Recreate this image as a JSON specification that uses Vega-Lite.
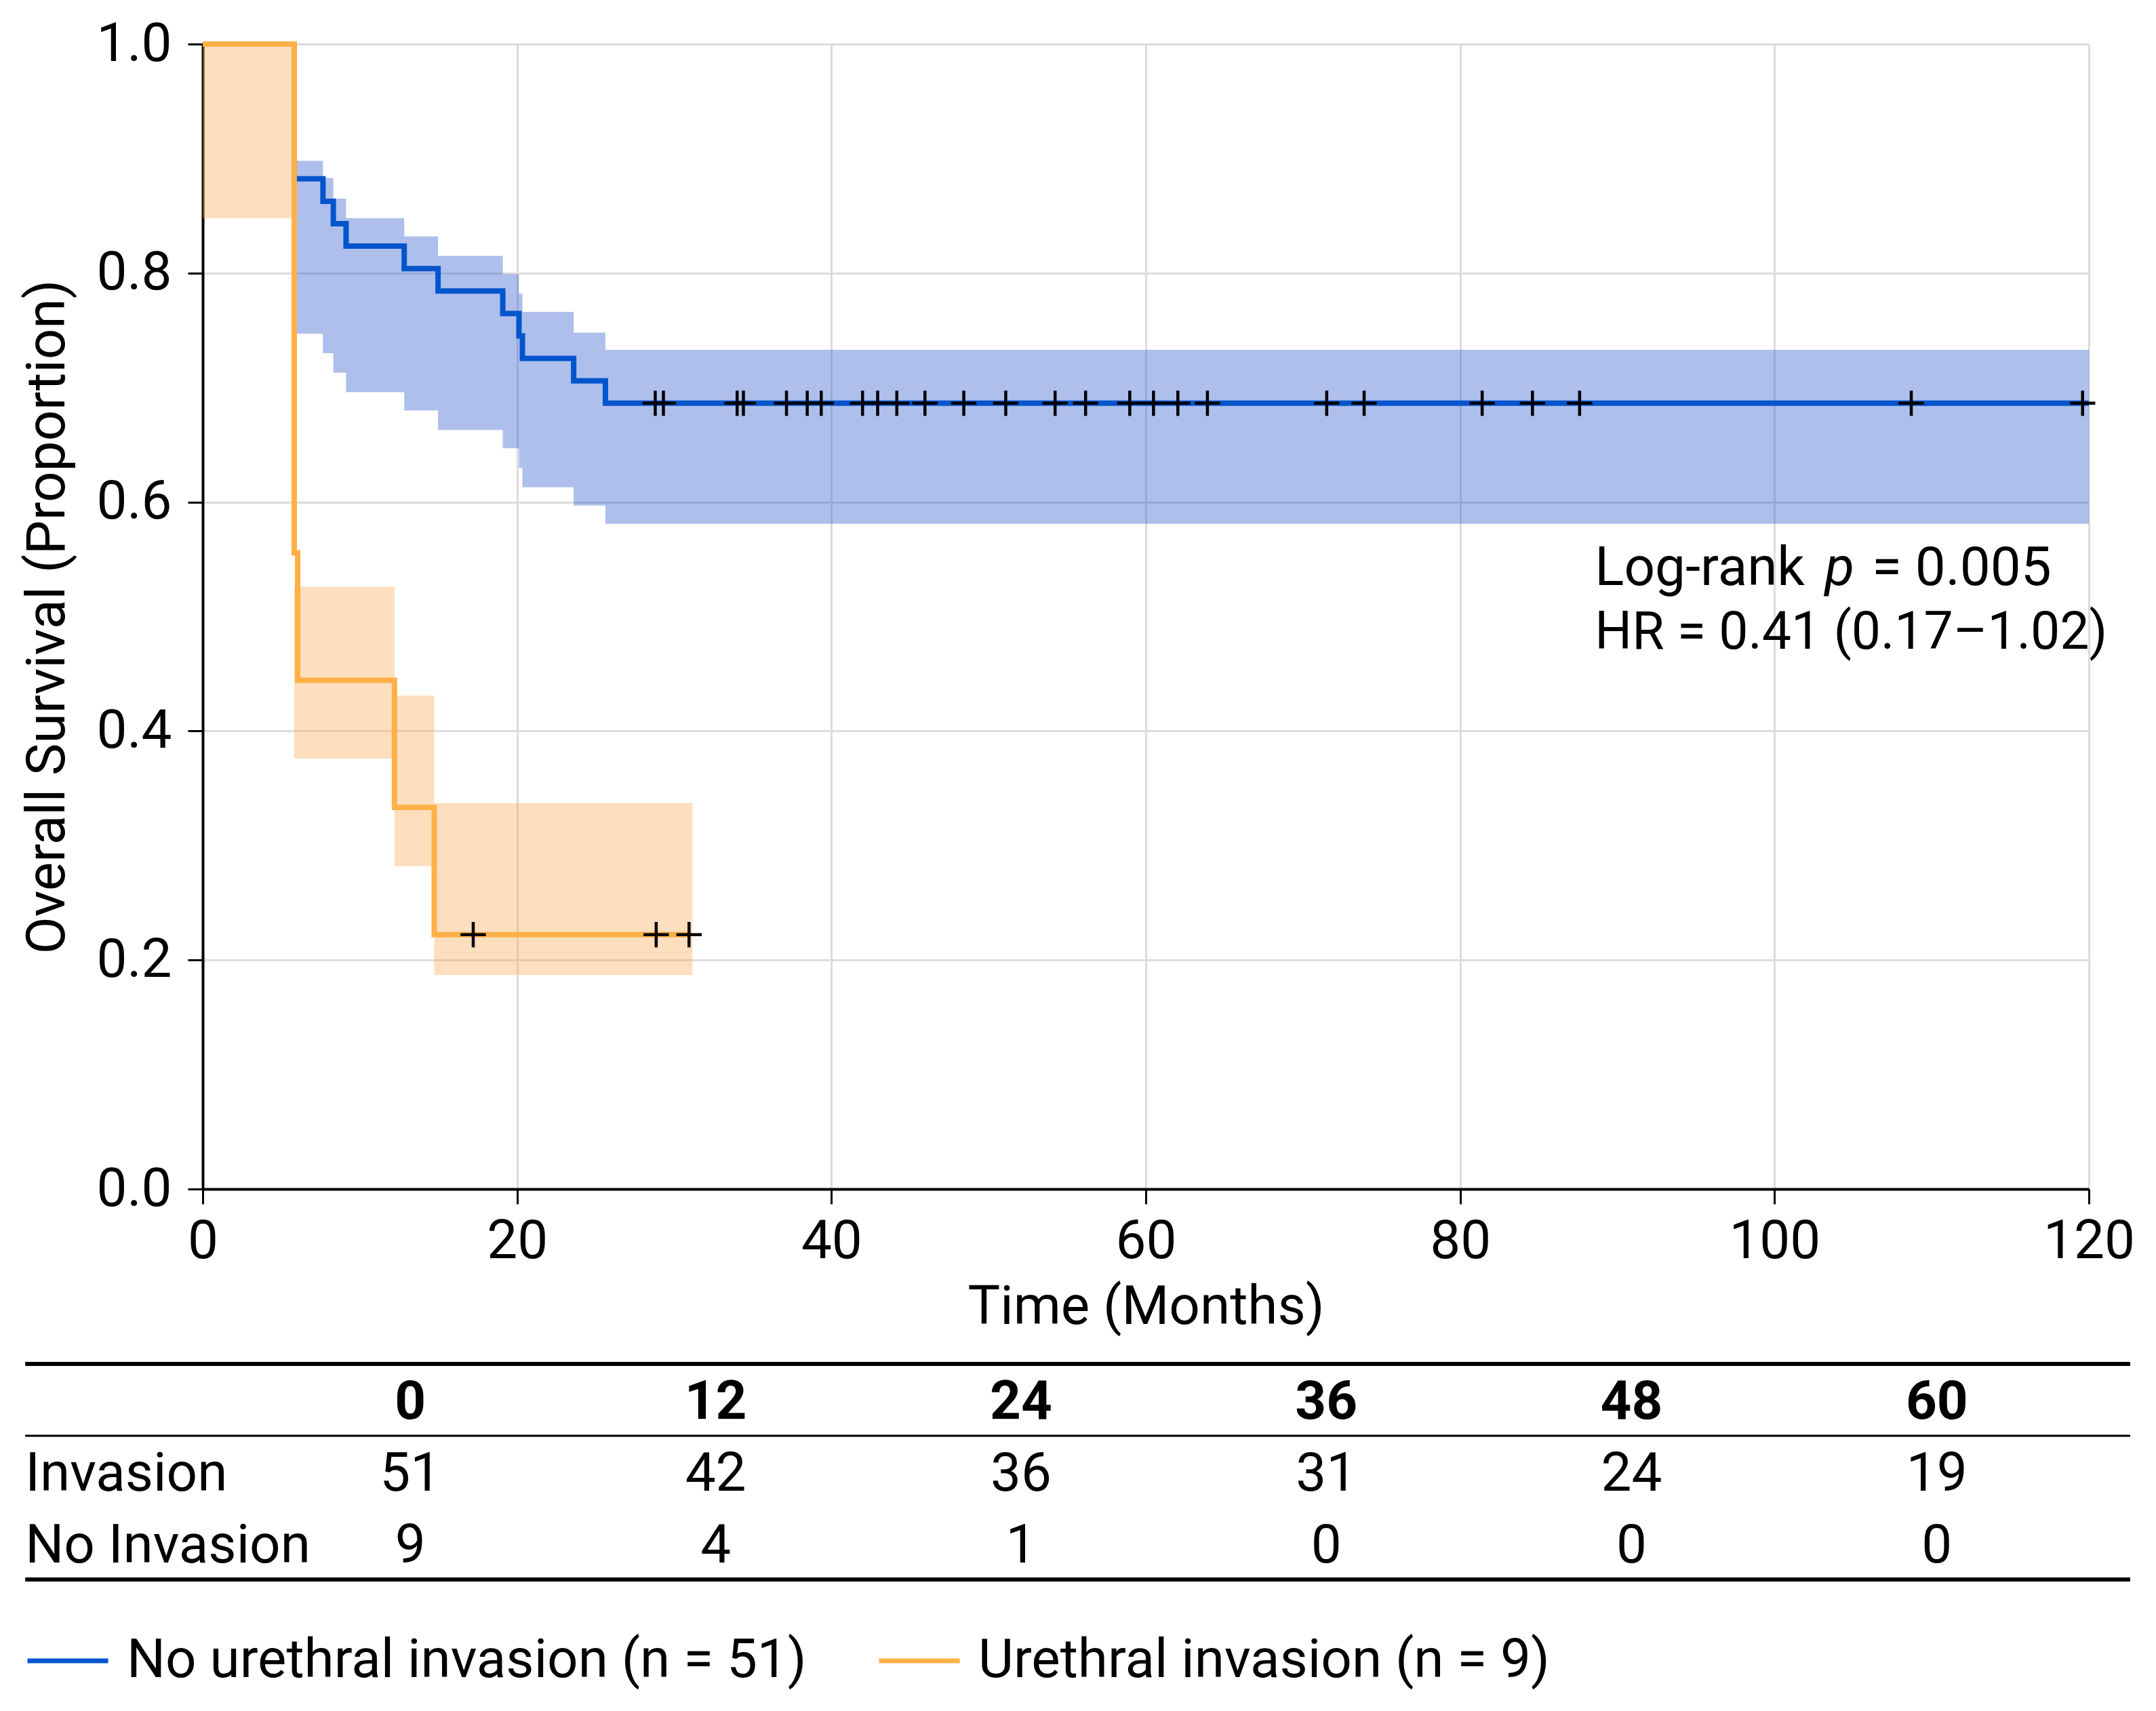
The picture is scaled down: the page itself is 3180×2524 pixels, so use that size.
{
  "$schema": "https://vega.github.io/schema/vega-lite/v6.json",
  "background": "white",
  "padding": {"left": 30, "top": 25, "right": 10, "bottom": 10},
  "bounds": "flush",
  "spacing": 258,
  "resolve": {"scale": {"color": "independent"}, "legend": {"color": "independent"}},
  "config": {
    "font": "Roboto",
    "view": {"stroke": null},
    "axis": {
      "labelFontSize": 80,
      "titleFontSize": 80,
      "titleFontWeight": "normal",
      "labelColor": "black",
      "titleColor": "black",
      "tickColor": "black",
      "domainColor": "black",
      "tickSize": 22,
      "tickWidth": 3,
      "domainWidth": 4,
      "gridColor": "#dcdcdc",
      "gridWidth": 3,
      "labelOverlap": false,
      "labelFlush": false
    },
    "text": {"font": "Roboto", "fontSize": 80, "color": "black"}
  },
  "datasets": {
    "curves": [
      {"group": "No urethral invasion (n = 51)", "t": 0, "s": 1},
      {"group": "No urethral invasion (n = 51)", "t": 5.82, "s": 0.8824},
      {"group": "No urethral invasion (n = 51)", "t": 7.65, "s": 0.8627},
      {"group": "No urethral invasion (n = 51)", "t": 8.31, "s": 0.8431},
      {"group": "No urethral invasion (n = 51)", "t": 9.12, "s": 0.8235},
      {"group": "No urethral invasion (n = 51)", "t": 12.82, "s": 0.8039},
      {"group": "No urethral invasion (n = 51)", "t": 14.97, "s": 0.7843},
      {"group": "No urethral invasion (n = 51)", "t": 19.09, "s": 0.7647},
      {"group": "No urethral invasion (n = 51)", "t": 20.12, "s": 0.7451},
      {"group": "No urethral invasion (n = 51)", "t": 20.34, "s": 0.7255},
      {"group": "No urethral invasion (n = 51)", "t": 23.6, "s": 0.7059},
      {"group": "No urethral invasion (n = 51)", "t": 25.62, "s": 0.6863},
      {"group": "No urethral invasion (n = 51)", "t": 120, "s": 0.6863},
      {"group": "Urethral invasion (n = 9)", "t": 0, "s": 1},
      {"group": "Urethral invasion (n = 9)", "t": 5.82, "s": 0.5556},
      {"group": "Urethral invasion (n = 9)", "t": 6.04, "s": 0.4444},
      {"group": "Urethral invasion (n = 9)", "t": 12.2, "s": 0.3333},
      {"group": "Urethral invasion (n = 9)", "t": 14.73, "s": 0.2222},
      {"group": "Urethral invasion (n = 9)", "t": 30.94, "s": 0.2222}
    ],
    "bands": [
      {"group": "No urethral invasion (n = 51)", "t": 5.82, "hi": 0.898, "lo": 0.747},
      {"group": "No urethral invasion (n = 51)", "t": 7.65, "hi": 0.883, "lo": 0.73},
      {"group": "No urethral invasion (n = 51)", "t": 8.31, "hi": 0.865, "lo": 0.713},
      {"group": "No urethral invasion (n = 51)", "t": 9.12, "hi": 0.848, "lo": 0.696},
      {"group": "No urethral invasion (n = 51)", "t": 12.82, "hi": 0.832, "lo": 0.68},
      {"group": "No urethral invasion (n = 51)", "t": 14.97, "hi": 0.815, "lo": 0.663},
      {"group": "No urethral invasion (n = 51)", "t": 19.09, "hi": 0.799, "lo": 0.647},
      {"group": "No urethral invasion (n = 51)", "t": 20.12, "hi": 0.782, "lo": 0.63},
      {"group": "No urethral invasion (n = 51)", "t": 20.34, "hi": 0.766, "lo": 0.613},
      {"group": "No urethral invasion (n = 51)", "t": 23.6, "hi": 0.748, "lo": 0.597},
      {"group": "No urethral invasion (n = 51)", "t": 25.62, "hi": 0.733, "lo": 0.581},
      {"group": "No urethral invasion (n = 51)", "t": 120, "hi": 0.733, "lo": 0.581},
      {"group": "Urethral invasion (n = 9)", "t": 0, "hi": 1, "lo": 0.848},
      {"group": "Urethral invasion (n = 9)", "t": 5.82, "hi": 0.526, "lo": 0.376},
      {"group": "Urethral invasion (n = 9)", "t": 12.2, "hi": 0.431, "lo": 0.282},
      {"group": "Urethral invasion (n = 9)", "t": 14.73, "hi": 0.337, "lo": 0.187},
      {"group": "Urethral invasion (n = 9)", "t": 31.16, "hi": 0.337, "lo": 0.187}
    ],
    "censored": [
      {"group": "No urethral invasion (n = 51)", "t": 28.79, "s": 0.6863},
      {"group": "No urethral invasion (n = 51)", "t": 29.31, "s": 0.6863},
      {"group": "No urethral invasion (n = 51)", "t": 34.0, "s": 0.6863},
      {"group": "No urethral invasion (n = 51)", "t": 34.4, "s": 0.6863},
      {"group": "No urethral invasion (n = 51)", "t": 37.14, "s": 0.6863},
      {"group": "No urethral invasion (n = 51)", "t": 38.46, "s": 0.6863},
      {"group": "No urethral invasion (n = 51)", "t": 39.35, "s": 0.6863},
      {"group": "No urethral invasion (n = 51)", "t": 41.98, "s": 0.6863},
      {"group": "No urethral invasion (n = 51)", "t": 42.94, "s": 0.6863},
      {"group": "No urethral invasion (n = 51)", "t": 44.16, "s": 0.6863},
      {"group": "No urethral invasion (n = 51)", "t": 45.95, "s": 0.6863},
      {"group": "No urethral invasion (n = 51)", "t": 48.42, "s": 0.6863},
      {"group": "No urethral invasion (n = 51)", "t": 51.09, "s": 0.6863},
      {"group": "No urethral invasion (n = 51)", "t": 54.23, "s": 0.6863},
      {"group": "No urethral invasion (n = 51)", "t": 56.17, "s": 0.6863},
      {"group": "No urethral invasion (n = 51)", "t": 58.98, "s": 0.6863},
      {"group": "No urethral invasion (n = 51)", "t": 60.49, "s": 0.6863},
      {"group": "No urethral invasion (n = 51)", "t": 62.04, "s": 0.6863},
      {"group": "No urethral invasion (n = 51)", "t": 63.92, "s": 0.6863},
      {"group": "No urethral invasion (n = 51)", "t": 71.51, "s": 0.6863},
      {"group": "No urethral invasion (n = 51)", "t": 73.89, "s": 0.6863},
      {"group": "No urethral invasion (n = 51)", "t": 81.4, "s": 0.6863},
      {"group": "No urethral invasion (n = 51)", "t": 84.6, "s": 0.6863},
      {"group": "No urethral invasion (n = 51)", "t": 87.6, "s": 0.6863},
      {"group": "No urethral invasion (n = 51)", "t": 108.7, "s": 0.6863},
      {"group": "No urethral invasion (n = 51)", "t": 119.6, "s": 0.6863},
      {"group": "Urethral invasion (n = 9)", "t": 17.21, "s": 0.2222},
      {"group": "Urethral invasion (n = 9)", "t": 28.85, "s": 0.2222},
      {"group": "Urethral invasion (n = 9)", "t": 30.94, "s": 0.2222}
    ],
    "header": [
      {"t": 0}, {"t": 12}, {"t": 24}, {"t": 36}, {"t": 48}, {"t": 60}
    ],
    "atrisk": [
      {"row": "Invasion", "t": 0, "n": 51},
      {"row": "Invasion", "t": 12, "n": 42},
      {"row": "Invasion", "t": 24, "n": 36},
      {"row": "Invasion", "t": 36, "n": 31},
      {"row": "Invasion", "t": 48, "n": 24},
      {"row": "Invasion", "t": 60, "n": 19},
      {"row": "No Invasion", "t": 0, "n": 9},
      {"row": "No Invasion", "t": 12, "n": 4},
      {"row": "No Invasion", "t": 24, "n": 1},
      {"row": "No Invasion", "t": 36, "n": 0},
      {"row": "No Invasion", "t": 48, "n": 0},
      {"row": "No Invasion", "t": 60, "n": 0}
    ]
  },
  "vconcat": [
    {
      "width": 2782,
      "height": 1689,
      "encoding": {
        "x": {
          "type": "quantitative",
          "scale": {"domain": [0, 120], "nice": false},
          "axis": {
            "values": [0, 20, 40, 60, 80, 100, 120],
            "title": "Time (Months)",
            "labelPadding": 16,
            "titlePadding": 18
          }
        },
        "y": {
          "type": "quantitative",
          "scale": {"domain": [0, 1], "nice": false},
          "axis": {
            "values": [0, 0.2, 0.4, 0.6, 0.8, 1],
            "format": ".1f",
            "title": "Overall Survival (Proportion)",
            "labelPadding": 24,
            "titlePadding": 30
          }
        }
      },
      "layer": [
        {
          "data": {"name": "bands"},
          "mark": {"type": "area", "interpolate": "step-after", "opacity": 0.38},
          "encoding": {
            "x": {"field": "t", "type": "quantitative"},
            "y": {"field": "hi", "type": "quantitative"},
            "y2": {"field": "lo"},
            "fill": {
              "field": "group",
              "type": "nominal",
              "scale": {
                "domain": ["No urethral invasion (n = 51)", "Urethral invasion (n = 9)"],
                "range": ["#2a57cd", "#faa854"]
              },
              "legend": null
            }
          }
        },
        {
          "data": {"name": "curves"},
          "mark": {"type": "line", "interpolate": "step-after", "strokeWidth": 8},
          "encoding": {
            "x": {"field": "t", "type": "quantitative"},
            "y": {"field": "s", "type": "quantitative"},
            "color": {
              "field": "group",
              "type": "nominal",
              "scale": {
                "domain": ["No urethral invasion (n = 51)", "Urethral invasion (n = 9)"],
                "range": ["#0055cc", "#ffb046"]
              },
              "legend": {
                "orient": "none",
                "legendX": -262,
                "legendY": 2322,
                "direction": "horizontal",
                "title": null,
                "symbolType": "stroke",
                "symbolSize": 14161,
                "symbolStrokeWidth": 7,
                "labelFontSize": 80,
                "labelColor": "black",
                "labelLimit": 3000,
                "labelOffset": 24,
                "columnPadding": 92,
                "padding": 0
              }
            }
          }
        },
        {
          "data": {"name": "censored"},
          "mark": {
            "type": "point",
            "shape": "M-1,0L1,0M0,-1L0,1",
            "size": 1400,
            "filled": false,
            "stroke": "black",
            "strokeWidth": 4.5,
            "opacity": 1
          },
          "encoding": {
            "x": {"field": "t", "type": "quantitative"},
            "y": {"field": "s", "type": "quantitative"}
          }
        },
        {
          "data": {"values": [{}]},
          "mark": {"type": "text", "text": "Log-rank", "align": "left", "baseline": "alphabetic"},
          "encoding": {"x": {"datum": 88.57}, "y": {"datum": 0.5275}}
        },
        {
          "data": {"values": [{}]},
          "mark": {"type": "text", "text": "p", "fontStyle": "italic", "align": "left", "baseline": "alphabetic"},
          "encoding": {"x": {"datum": 103.2}, "y": {"datum": 0.5275}}
        },
        {
          "data": {"values": [{}]},
          "mark": {"type": "text", "text": "= 0.005", "align": "left", "baseline": "alphabetic"},
          "encoding": {"x": {"datum": 106.2}, "y": {"datum": 0.5275}}
        },
        {
          "data": {"values": [{}]},
          "mark": {"type": "text", "text": "HR = 0.41 (0.17–1.02)", "fontSize": 77, "align": "left", "baseline": "alphabetic"},
          "encoding": {"x": {"datum": 88.57}, "y": {"datum": 0.4716}}
        }
      ]
    },
    {
      "width": 2843,
      "height": 318,
      "encoding": {
        "x": {"type": "quantitative", "scale": {"domain": [-8.163, 67.6], "nice": false, "zero": false}, "axis": null},
        "y": {"type": "quantitative", "scale": {"domain": [0, 6], "nice": false, "reverse": true}, "axis": null}
      },
      "layer": [
        {
          "data": {"values": [{}]},
          "mark": {"type": "rule", "color": "black", "strokeWidth": 6},
          "encoding": {"x": {"datum": -15.14}, "x2": {"datum": 67.6}, "y": {"datum": 0}}
        },
        {
          "data": {"values": [{}]},
          "mark": {"type": "rule", "color": "black", "strokeWidth": 3},
          "encoding": {"x": {"datum": -15.14}, "x2": {"datum": 67.6}, "y": {"datum": 2}}
        },
        {
          "data": {"values": [{}]},
          "mark": {"type": "rule", "color": "black", "strokeWidth": 6},
          "encoding": {"x": {"datum": -15.14}, "x2": {"datum": 67.6}, "y": {"datum": 6}}
        },
        {
          "data": {"name": "header"},
          "mark": {"type": "text", "fontWeight": "bold", "align": "center", "baseline": "middle", "dy": 4},
          "encoding": {
            "x": {"field": "t", "type": "quantitative"},
            "y": {"datum": 1},
            "text": {"field": "t", "type": "quantitative"}
          }
        },
        {
          "data": {"name": "atrisk"},
          "transform": [{"filter": "datum.row == 'Invasion'"}],
          "mark": {"type": "text", "align": "center", "baseline": "middle", "dy": 4},
          "encoding": {
            "x": {"field": "t", "type": "quantitative"},
            "y": {"datum": 3},
            "text": {"field": "n", "type": "quantitative"}
          }
        },
        {
          "data": {"name": "atrisk"},
          "transform": [{"filter": "datum.row == 'No Invasion'"}],
          "mark": {"type": "text", "align": "center", "baseline": "middle", "dy": 4},
          "encoding": {
            "x": {"field": "t", "type": "quantitative"},
            "y": {"datum": 5},
            "text": {"field": "n", "type": "quantitative"}
          }
        },
        {
          "data": {"name": "atrisk"},
          "transform": [{"filter": "datum.row == 'Invasion' && datum.t == 0"}],
          "mark": {"type": "text", "align": "left", "baseline": "middle", "dy": 4},
          "encoding": {
            "x": {"datum": -15.14},
            "y": {"datum": 3},
            "text": {"field": "row", "type": "nominal"}
          }
        },
        {
          "data": {"name": "atrisk"},
          "transform": [{"filter": "datum.row == 'No Invasion' && datum.t == 0"}],
          "mark": {"type": "text", "align": "left", "baseline": "middle", "dy": 4},
          "encoding": {
            "x": {"datum": -15.14},
            "y": {"datum": 5},
            "text": {"field": "row", "type": "nominal"}
          }
        }
      ]
    }
  ]
}
